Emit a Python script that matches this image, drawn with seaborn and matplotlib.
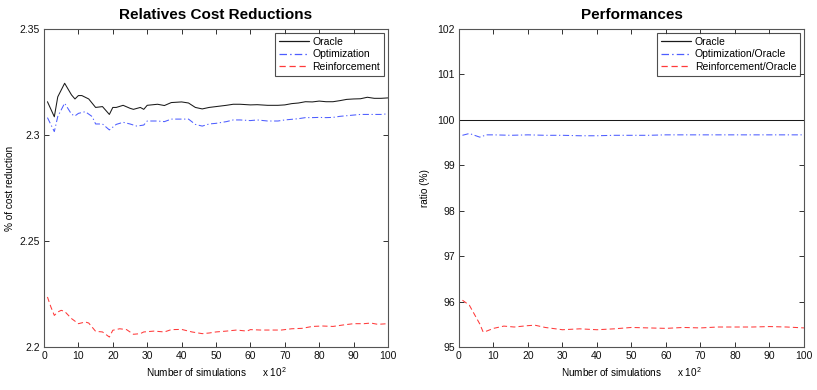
import matplotlib
matplotlib.use("Agg")
import matplotlib.pyplot as plt
from matplotlib.lines import Line2D
import seaborn as sns
import pandas as pd

# ---------------- data (x in units of 10^2 simulations) ----------------
oracle_x = [1, 3, 4, 6, 8, 9, 10, 11, 13, 15, 17, 19, 20, 21, 23, 25, 26, 28, 29, 30,
            33, 35, 37, 40, 42, 44, 46, 48, 50, 53, 55, 57, 60, 62, 65, 68, 70, 72, 74,
            76, 78, 80, 82, 84, 86, 88, 90, 92, 94, 96, 98, 100]
oracle_y = [2.3157, 2.3086, 2.3180, 2.3244, 2.3189, 2.3170, 2.3186, 2.3186, 2.3170, 2.3130,
            2.3134, 2.3097, 2.3130, 2.3130, 2.3140, 2.3126, 2.3121, 2.3130, 2.3121, 2.3140,
            2.3145, 2.3139, 2.3153, 2.3156, 2.3151, 2.3130, 2.3123, 2.3130, 2.3134, 2.3140,
            2.3145, 2.3145, 2.3142, 2.3143, 2.3140, 2.3140, 2.3142, 2.3148, 2.3151, 2.3157,
            2.3156, 2.3160, 2.3157, 2.3157, 2.3162, 2.3168, 2.3170, 2.3171, 2.3178, 2.3173,
            2.3173, 2.3175]

optim_x = [1, 3, 4, 6, 8, 9, 10, 12, 14, 15, 17, 19, 21, 23, 25, 27, 29, 30, 33, 35, 37,
           40, 42, 44, 46, 48, 50, 53, 55, 57, 60, 62, 65, 68, 70, 72, 74, 76, 78, 80, 82,
           84, 86, 88, 90, 92, 94, 96, 98, 100]
optim_y = [2.3082, 2.3016, 2.3087, 2.3150, 2.3098, 2.3090, 2.3102, 2.3110, 2.3087, 2.3052,
           2.3052, 2.3024, 2.3050, 2.3060, 2.3052, 2.3042, 2.3047, 2.3066, 2.3066, 2.3063,
           2.3075, 2.3075, 2.3075, 2.3050, 2.3042, 2.3052, 2.3055, 2.3063, 2.3071, 2.3071,
           2.3068, 2.3071, 2.3066, 2.3066, 2.3071, 2.3074, 2.3077, 2.3082, 2.3082, 2.3083,
           2.3082, 2.3083, 2.3088, 2.3091, 2.3094, 2.3097, 2.3097, 2.3097, 2.3097, 2.3100]

reinf_x = [1, 2, 3, 4, 5, 6, 8, 10, 12, 13, 15, 17, 19, 20, 22, 24, 26, 28, 29, 32, 35, 37,
           40, 43, 46, 48, 50, 53, 56, 59, 60, 63, 66, 69, 72, 75, 78, 81, 84, 87, 90, 93,
           95, 97, 100]
reinf_y = [2.2236, 2.2189, 2.2149, 2.2165, 2.2173, 2.2168, 2.2134, 2.2110, 2.2118, 2.2113,
           2.2074, 2.2071, 2.2047, 2.2079, 2.2086, 2.2082, 2.2060, 2.2063, 2.2071, 2.2075,
           2.2071, 2.2082, 2.2083, 2.2071, 2.2063, 2.2066, 2.2071, 2.2075, 2.2080, 2.2075,
           2.2082, 2.2080, 2.2080, 2.2080, 2.2086, 2.2088, 2.2097, 2.2099, 2.2097, 2.2104,
           2.2110, 2.2110, 2.2113, 2.2107, 2.2110]

perf_oracle_x = [0, 100]
perf_oracle_y = [100.0, 100.0]

perf_optim_x = [1, 3, 6, 8, 10, 15, 20, 25, 30, 35, 40, 45, 50, 55, 60, 65, 70, 75, 80, 85,
                90, 95, 100]
perf_optim_y = [99.66, 99.70, 99.62, 99.67, 99.67, 99.66, 99.67, 99.66, 99.66, 99.65, 99.65,
                99.66, 99.66, 99.66, 99.67, 99.67, 99.67, 99.67, 99.67, 99.67, 99.67, 99.67,
                99.67]

perf_reinf_x = [1, 3, 6, 7, 8, 10, 13, 16, 20, 22, 25, 30, 35, 40, 45, 50, 55, 60, 65, 70,
                75, 80, 85, 90, 95, 100]
perf_reinf_y = [96.03, 95.92, 95.51, 95.33, 95.35, 95.41, 95.46, 95.44, 95.47, 95.48, 95.43,
                95.38, 95.40, 95.38, 95.40, 95.43, 95.42, 95.41, 95.43, 95.42, 95.44, 95.44,
                95.44, 95.45, 95.44, 95.42]

left_labels = ["Oracle", "Optimization", "Reinforcement"]
right_labels = ["Oracle", "Optimization/Oracle", "Reinforcement/Oracle"]
left_yticks = [2.2, 2.25, 2.3, 2.35]
left_yticklabels = ["2.2", "2.25", "2.3", "2.35"]
right_yticks = [95, 96, 97, 98, 99, 100, 101, 102]
xticks = [0, 10, 20, 30, 40, 50, 60, 70, 80, 90, 100]

# ---------------- styling ----------------
sns.set_style("ticks")
plt.rcParams['font.family'] = ['Liberation Sans', 'DejaVu Sans']
plt.rcParams['mathtext.fontset'] = 'custom'
plt.rcParams['mathtext.rm'] = 'Liberation Sans'
plt.rcParams['text.color'] = 'black'
plt.rcParams['axes.labelcolor'] = 'black'

FS = 7.2
fig = plt.figure(figsize=(8.17, 3.90), dpi=100)
W, H = 817, 390
ax1 = fig.add_axes([44 / W, (H - 347) / H, 344 / W, 318 / H])
ax2 = fig.add_axes([459 / W, (H - 347) / H, 345 / W, 318 / H])

colors = ["#1a1a1a", "#4d5dff", "#ff3a3a"]
dashes = ["-", (0, (6, 2.5, 1.2, 2.5)), (0, (5, 3))]

def draw(ax, series, labels):
    for (xs, ys), c, ls in zip(series, colors, dashes):
        df = pd.DataFrame({"x": xs, "y": ys})
        sns.lineplot(data=df, x="x", y="y", ax=ax, legend=False,
                     color=c, linestyle=ls, linewidth=0.75)
    handles = [Line2D([], [], color=c, linestyle=ls, linewidth=0.9)
               for c, ls in zip(colors, dashes)]
    leg = ax.legend(handles, labels, loc="upper right", fontsize=FS + 0.3, frameon=True,
                    fancybox=False, borderpad=0.35, labelspacing=0.25, handlelength=2.9,
                    handletextpad=0.35, borderaxespad=0.4)
    leg.get_frame().set_edgecolor("#222222")
    leg.get_frame().set_linewidth(0.8)

draw(ax1, [(oracle_x, oracle_y), (optim_x, optim_y), (reinf_x, reinf_y)], left_labels)
draw(ax2, [(perf_oracle_x, perf_oracle_y), (perf_optim_x, perf_optim_y),
           (perf_reinf_x, perf_reinf_y)], right_labels)

for ax in (ax1, ax2):
    ax.set_xlim(0, 100)
    ax.set_xticks(xticks)
    ax.tick_params(direction="in", length=3.5, width=0.6, labelsize=FS + 0.3,
                   colors="#111111", top=True, right=True, pad=3)
    for sp in ax.spines.values():
        sp.set_visible(True)
        sp.set_linewidth(0.8)
        sp.set_color("#555555")
    ax.set_xlabel("Number of simulations      x 10$^2$", fontsize=FS, labelpad=3)

ax1.set_ylim(2.2, 2.35)
ax1.set_yticks(left_yticks)
ax1.set_yticklabels(left_yticklabels)
ax1.set_ylabel("% of cost reduction", fontsize=FS, labelpad=3)
ax1.set_title("Relatives Cost Reductions", fontsize=11, fontweight="bold",
              color="black", pad=7)

ax2.set_ylim(95, 102)
ax2.set_yticks(right_yticks)
ax2.set_ylabel("ratio (%)", fontsize=FS, labelpad=5)
ax2.set_title("Performances", fontsize=11, fontweight="bold", color="black", pad=7)

fig.savefig("out.png", dpi=100)
